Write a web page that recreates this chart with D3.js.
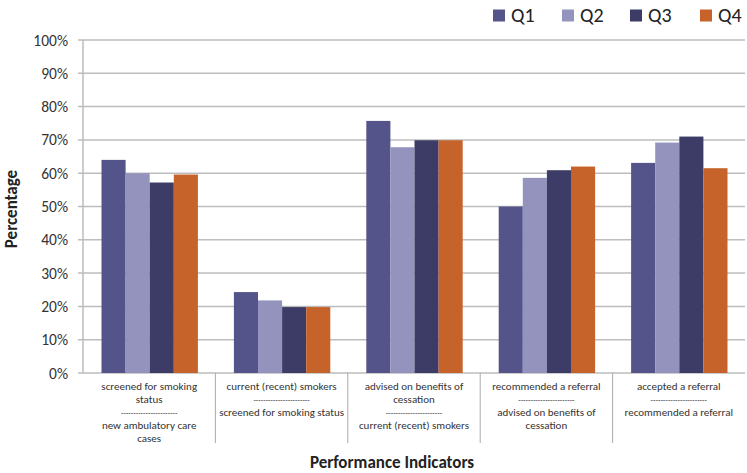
<!DOCTYPE html>
<html>
<head>
<meta charset="utf-8">
<script src="https://cdn.jsdelivr.net/npm/d3@7"></script>
<style>
  body { margin: 0; background: #fff; }
  svg text { font-family: Calibri, Carlito, "Open Sans", sans-serif; }
</style>
</head>
<body>
<svg id="chart" width="747" height="473"></svg>
<script>
const categories = [
  ['screened for smoking', 'status', '-----------------------', 'new ambulatory care', 'cases'],
  ['current (recent) smokers', '-----------------------', 'screened for smoking status'],
  ['advised on benefits of', 'cessation', '-----------------------', 'current (recent) smokers'],
  ['recommended a referral', '-----------------------', 'advised on benefits of', 'cessation'],
  ['accepted a referral', '-----------------------', 'recommended a referral']
]
const seriesNames = ['Q1', 'Q2', 'Q3', 'Q4']
const q1 = [64, 24.3, 75.7, 50, 63.1]
const q2 = [60, 21.8, 67.8, 58.6, 69.2]
const q3 = [57.2, 19.8, 69.9, 60.9, 71]
const q4 = [59.6, 19.8, 69.9, 62, 61.5]
const yTicks = [0, 10, 20, 30, 40, 50, 60, 70, 80, 90, 100]
const colors = ['#55548a', '#9493be', '#3c3c66', '#c5632b']

const values = [q1, q2, q3, q4]
const svg = d3.select('#chart')
const plotLeft = 83, plotRight = 745, plotTop = 40, plotBottom = 373

const x0 = d3.scaleBand()
  .domain(d3.range(categories.length))
  .range([plotLeft, plotRight])
  .paddingInner(0)
  .paddingOuter(0)

const x1 = d3.scaleBand()
  .domain(seriesNames)
  .range([18.5, x0.bandwidth() - 17.5])
  .padding(0)

const y = d3.scaleLinear().domain([0, 100]).range([plotBottom, plotTop])

// gridlines
svg.append('g')
  .selectAll('line')
  .data(yTicks)
  .enter()
  .append('line')
  .attr('x1', plotLeft - 5)
  .attr('x2', plotRight)
  .attr('y1', d => y(d))
  .attr('y2', d => y(d))
  .attr('stroke', '#bdbdbd')
  .attr('stroke-width', 1.5)

// y axis line
svg.append('line')
  .attr('x1', plotLeft).attr('x2', plotLeft)
  .attr('y1', plotTop).attr('y2', plotBottom)
  .attr('stroke', '#bdbdbd').attr('stroke-width', 1.5)

// y tick labels
svg.append('g')
  .selectAll('text')
  .data(yTicks)
  .enter()
  .append('text')
  .attr('x', 68)
  .attr('y', d => y(d) + 5.5)
  .attr('text-anchor', 'end')
  .attr('font-size', 15.5)
  .attr('fill', '#333')
  .text(d => d + '%')

// category separators
svg.append('g')
  .selectAll('line')
  .data(d3.range(1, categories.length))
  .enter()
  .append('line')
  .attr('x1', d => x0(d))
  .attr('x2', d => x0(d))
  .attr('y1', plotBottom)
  .attr('y2', 443)
  .attr('stroke', '#aaa')
  .attr('stroke-width', 1)

// bars
const groups = svg.append('g')
  .selectAll('g')
  .data(categories)
  .enter()
  .append('g')
  .attr('transform', (d, i) => `translate(${x0(i)},0)`)

groups.selectAll('rect')
  .data((d, i) => seriesNames.map((s, j) => ({s: s, v: values[j][i], j: j})))
  .enter()
  .append('rect')
  .attr('x', d => x1(d.s))
  .attr('y', d => y(d.v))
  .attr('width', x1.bandwidth())
  .attr('height', d => plotBottom - y(d.v))
  .attr('fill', d => colors[d.j])

// category labels
groups.append('text')
  .attr('text-anchor', 'middle')
  .attr('fill', '#333')
  .selectAll('tspan')
  .data(d => d)
  .enter()
  .append('tspan')
  .attr('x', x0.bandwidth() / 2)
  .attr('y', (d, i) => 390 + i * 13)
  .attr('font-size', d => d.startsWith('---') ? 8 : 11)
  .text(d => d)

// axis titles
svg.append('text')
  .attr('transform', 'translate(17,209) rotate(-90)')
  .attr('text-anchor', 'middle')
  .attr('font-size', 17)
  .attr('font-weight', 'bold')
  .attr('fill', '#222')
  .text('Percentage')

svg.append('text')
  .attr('x', 392)
  .attr('y', 468)
  .attr('text-anchor', 'middle')
  .attr('font-size', 17)
  .attr('font-weight', 'bold')
  .attr('fill', '#222')
  .text('Performance Indicators')

// legend
const legendX = [493, 562, 630, 700]
const legend = svg.append('g')
  .selectAll('g')
  .data(seriesNames)
  .enter()
  .append('g')
  .attr('transform', (d, i) => `translate(${legendX[i]},0)`)

legend.append('rect')
  .attr('width', 12).attr('height', 12).attr('y', 9.5)
  .attr('fill', (d, i) => colors[i])

legend.append('text')
  .attr('x', 18)
  .attr('y', 22)
  .attr('font-size', 20)
  .attr('fill', '#222')
  .text(d => d)
</script>
</body>
</html>
